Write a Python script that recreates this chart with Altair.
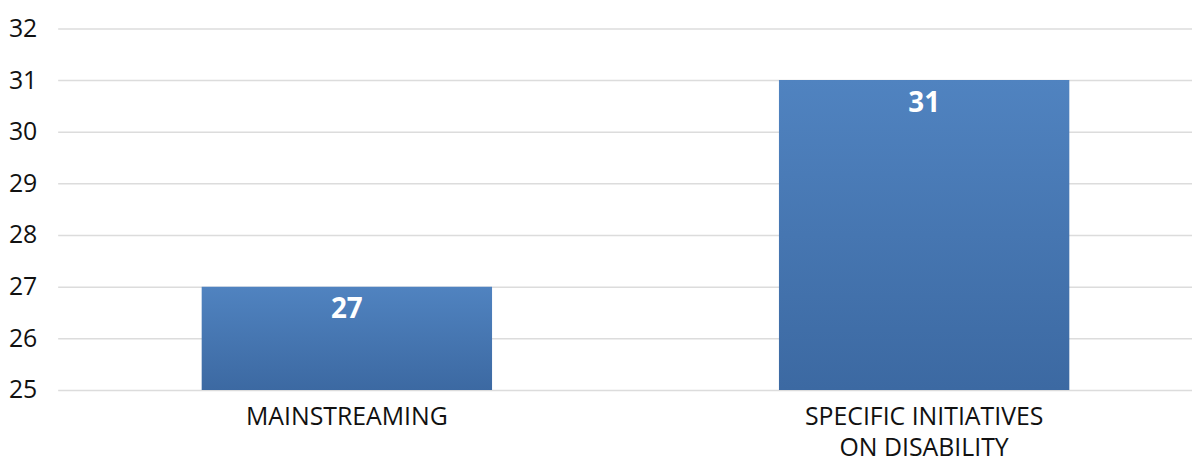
import altair as alt
import pandas as pd

categories = ["MAINSTREAMING", "SPECIFIC INITIATIVES\nON DISABILITY"]
values = [27, 31]
y_ticks = [25, 26, 27, 28, 29, 30, 31, 32]

df = pd.DataFrame({"cat": categories, "val": values})

x_enc = alt.X("cat:N", sort=categories, title=None,
              scale=alt.Scale(paddingInner=0.497, paddingOuter=0.231, align=0.54),
              axis=alt.Axis(labelAngle=0, labelFontSize=25, labelColor="#111111",
                            labelFont="Open Sans", labelPadding=15, ticks=False,
                            domain=False, grid=False, labelLineHeight=31, labelLimit=0,
                            labelBaseline="top",
                            labelExpr="split(datum.label, '\\n')"))
y_enc = alt.Y("val:Q", title=None,
              scale=alt.Scale(domain=[25, 32], nice=False, zero=False),
              axis=alt.Axis(values=y_ticks, format="d", labelFontSize=25,
                            labelColor="#111111", labelFont="Open Sans", labelPadding=21,
                            ticks=False, domain=False, gridColor="#dcdcdc", gridWidth=1.5))

base = alt.Chart(df).encode(x=x_enc, y=y_enc)

bars = base.mark_bar(
    color=alt.Gradient(gradient="linear",
                       stops=[alt.GradientStop(color="#5083c0", offset=0),
                              alt.GradientStop(color="#3c69a2", offset=1)],
                       x1=0, x2=0, y1=0, y2=1),
).encode(y2=alt.datum(25))

labels = base.mark_text(
    color="white", fontWeight="bold", fontSize=28, font="Open Sans",
    baseline="middle", dy=24
).encode(text="val:Q")

chart = alt.layer(bars, labels).properties(
    width=1142, height=364,
    autosize=alt.AutoSizeParams(type="none"),
    padding={"left": 50, "top": 19, "right": 0, "bottom": 74},
).configure_view(strokeWidth=0)

chart.save("out.html", embed_options={"renderer": "svg", "actions": False})
